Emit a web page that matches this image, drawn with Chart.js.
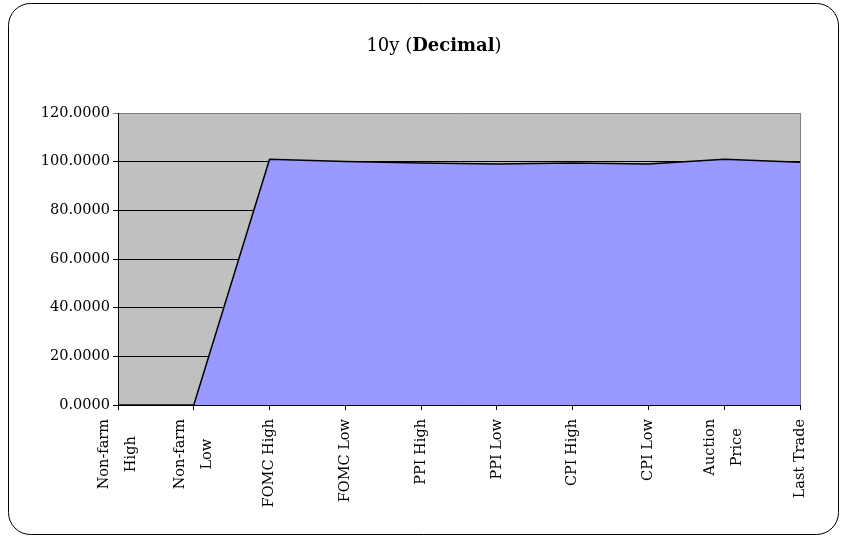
<!DOCTYPE html>
<html>
<head>
<meta charset="utf-8">
<script src="https://cdn.jsdelivr.net/npm/chart.js@4/dist/chart.umd.min.js"></script>
<style>
  body { margin: 0; background: #fff; }
  #wrap { width: 846px; height: 537px; }
</style>
</head>
<body>
<div id="wrap"><canvas id="myChart" width="846" height="537"></canvas></div>
<script>
// categories along the bottom (two-line ones wrap like the original)
const categories = [
    ["Non-farm", "High"], ["Non-farm", "Low"], "FOMC High", "FOMC Low",
    "PPI High", "PPI Low", "CPI High", "CPI Low", ["Auction", "Price"], "Last Trade"
];
// 10y price, decimal
const values = [0, 0, 101.0, 100.1, 99.5, 99.0, 99.5, 99.0, 101.0, 99.8];
const yMin = 0;
const yMax = 120;
const yStep = 20;

const fontName = "'DejaVu Serif', serif";

// white card, rounded frame, grey plot area, title with bold part
const framePlugin = {
    id: "frame",
    beforeDraw(chart) {
        const ctx = chart.ctx;
        const a = chart.chartArea;
        ctx.save();
        ctx.fillStyle = "#ffffff";
        ctx.fillRect(0, 0, chart.width, chart.height);
        ctx.strokeStyle = "#000000";
        ctx.lineWidth = 1;
        ctx.beginPath();
        ctx.roundRect(8.5, 3.5, 830, 531, 22);
        ctx.stroke();
        ctx.fillStyle = "#c0c0c0";
        ctx.fillRect(a.left, a.top, a.right - a.left, a.bottom - a.top);

        // title: 10y (Decimal) with "Decimal" bold
        const parts = [["10y (", "normal"], ["Decimal", "bold"], [")", "normal"]];
        let total = 0;
        parts.forEach(p => {
            ctx.font = p[1] + " 18px " + fontName;
            total += ctx.measureText(p[0]).width;
        });
        let x = 434 - total / 2;
        ctx.fillStyle = "#000000";
        ctx.textBaseline = "middle";
        ctx.textAlign = "left";
        parts.forEach(p => {
            ctx.font = p[1] + " 18px " + fontName;
            ctx.fillText(p[0], x, 46);
            x += ctx.measureText(p[0]).width;
        });
        ctx.restore();
    },
    afterDraw(chart) {
        const ctx = chart.ctx;
        const a = chart.chartArea;
        const xs = chart.scales.x;
        ctx.save();
        ctx.strokeStyle = "#808080";
        ctx.lineWidth = 1;
        ctx.beginPath();
        ctx.moveTo(Math.round(a.right) + 0.5, a.top);
        ctx.lineTo(Math.round(a.right) + 0.5, a.bottom);
        ctx.stroke();

        // category labels, turned, wrapped lines centred on the tick
        ctx.fillStyle = "#000000";
        ctx.font = "14.5px " + fontName;
        ctx.textAlign = "center";
        ctx.textBaseline = "middle";
        const top = a.bottom + 14;
        const gap = 27;
        categories.forEach((c, i) => {
            const lines = Array.isArray(c) ? c : [c];
            const px = xs.getPixelForTick(i);
            let w = 0;
            lines.forEach(l => { w = Math.max(w, ctx.measureText(l).width); });
            const mid = top + w / 2;
            lines.forEach((l, j) => {
                ctx.save();
                ctx.translate(px + (j - (lines.length - 1) / 2) * gap, mid);
                ctx.rotate(-Math.PI / 2);
                ctx.fillText(l, 0, 0);
                ctx.restore();
            });
        });
        ctx.restore();
    }
};

const myChart = new Chart("myChart", {
    type: "line",
    data: {
        labels: categories,
        datasets: [{
            data: values,
            borderColor: "#000000",
            borderWidth: 1.5,
            backgroundColor: "#9999ff",
            fill: "origin",
            tension: 0,
            pointRadius: 0
        }]
    },
    options: {
        responsive: false,
        animation: false,
        layout: { padding: { top: 113, right: 46, left: 0, bottom: 0 } },
        plugins: {
            legend: { display: false },
            title: { display: false },
            tooltip: { enabled: false }
        },
        scales: {
            x: {
                offset: false,
                afterFit(scale) { scale.height = 132; },
                grid: {
                    drawOnChartArea: false,
                    drawTicks: true,
                    tickLength: 5,
                    color: "#000000"
                },
                border: { color: "#000000", width: 1 },
                ticks: { display: false, autoSkip: false }
            },
            y: {
                min: yMin,
                max: yMax,
                afterFit(scale) { scale.width = 118; },
                grid: {
                    drawTicks: true,
                    tickLength: 5,
                    color: ctx => (ctx.tick && ctx.tick.value === yMax) ? "#808080" : "#000000"
                },
                border: { color: "#000000", width: 1 },
                ticks: {
                    stepSize: yStep,
                    padding: 3,
                    color: "#000000",
                    font: { family: fontName, size: 14.5 },
                    callback: v => v.toFixed(4)
                }
            }
        }
    },
    plugins: [framePlugin]
});
</script>
</body>
</html>
